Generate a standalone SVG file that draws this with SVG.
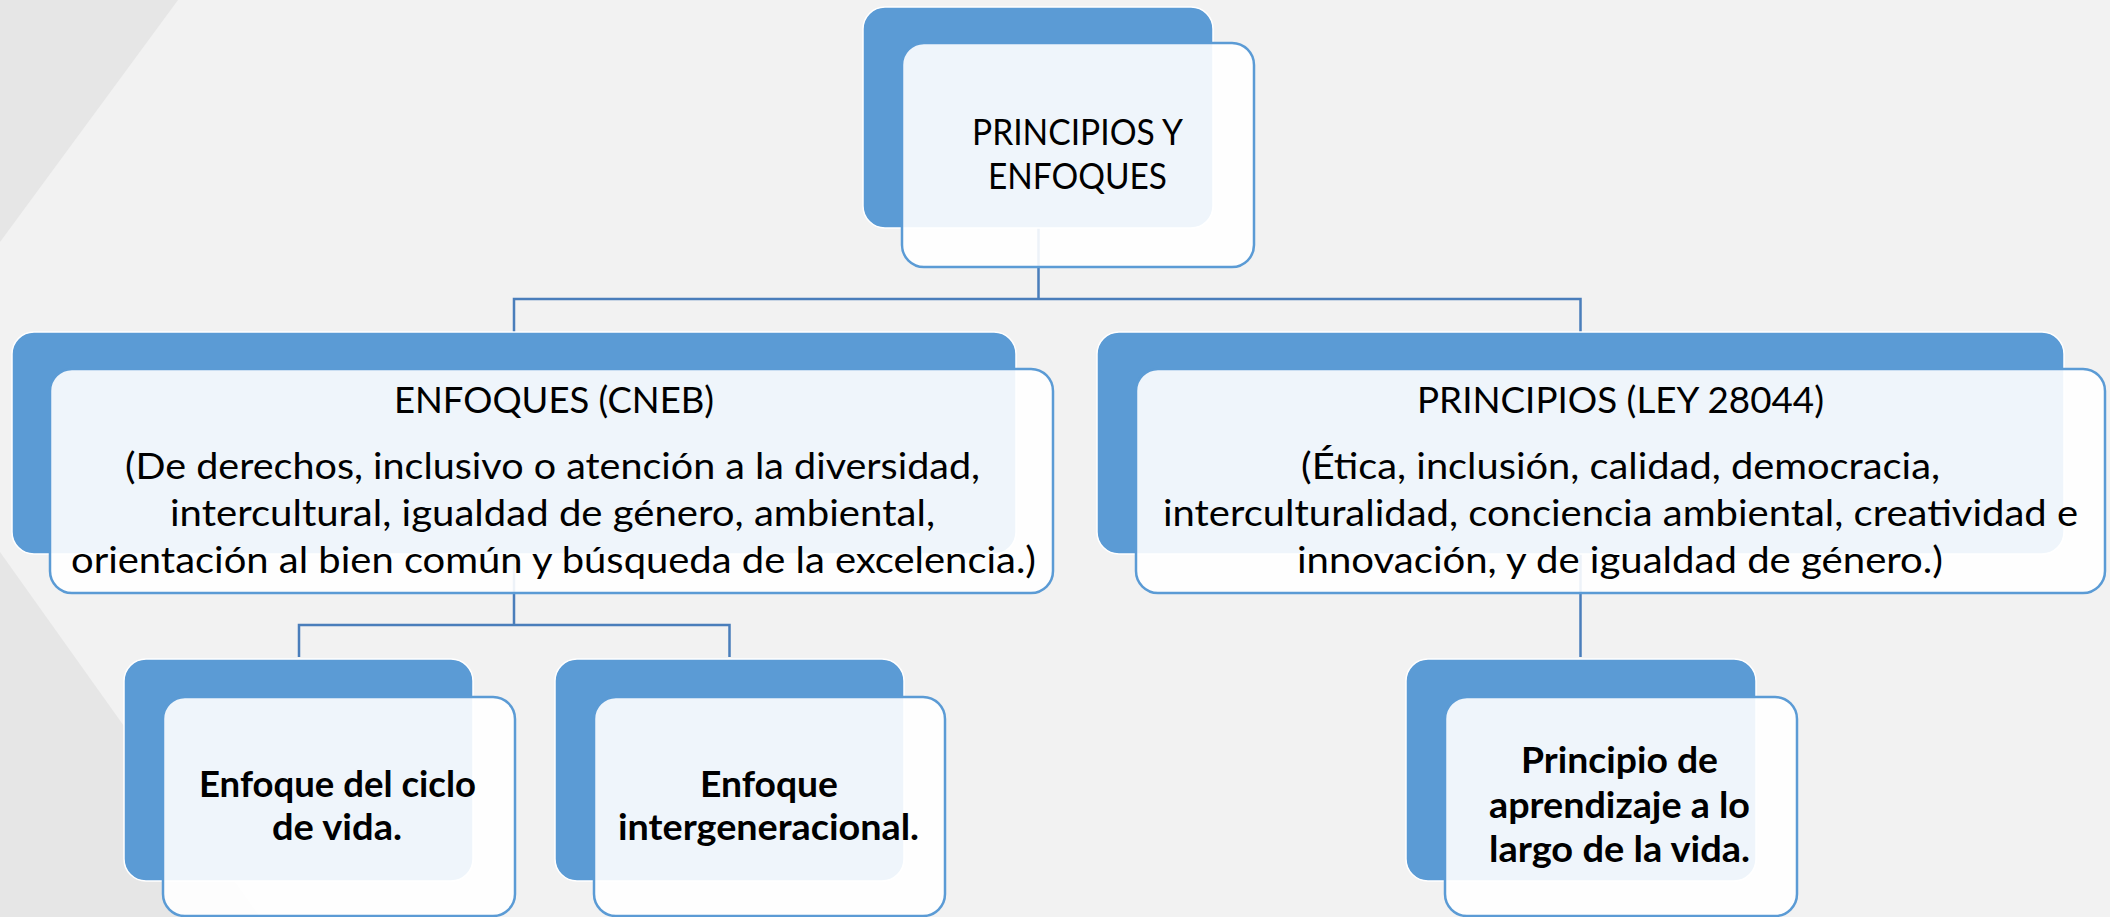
<svg xmlns="http://www.w3.org/2000/svg" width="2110" height="917" viewBox="0 0 2110 917">
<style>
.back{fill:#5B9BD5;stroke:#FFFFFF;stroke-width:1.5}
.front{fill:#FFFFFF;fill-opacity:0.9;stroke:#5B9BD5;stroke-width:2.5}
.t{font-family:Lato,"Liberation Sans",sans-serif;font-size:36px;fill:#000000}
.b{font-family:Lato,"Liberation Sans",sans-serif;font-size:36px;font-weight:bold;fill:#000000}
.conn{fill:none;stroke:#4A7EBB;stroke-width:2.5}
</style>
<rect x="0" y="0" width="2110" height="917" fill="#F2F2F2"/>
<polygon points="0,0 178,0 0,242" fill="#E6E6E6"/>
<polygon points="0,552 260,917 0,917" fill="#E6E6E6"/>
<g id="connectors">
<path class="conn" d="M1038.5,228 V299 M514,332 V299 H1580.5 V332"/>
<path class="conn" d="M514,554 V625 M299,657 V625 H729.5 V657"/>
<path class="conn" d="M1580.5,554 V657"/>
</g>
<g id="node-top">
<rect class="back" x="863" y="7" width="350" height="221" rx="22"/>
<rect class="front" x="902" y="43" width="352" height="224" rx="22"/>
<text class="t" x="972" y="145" textLength="211" lengthAdjust="spacingAndGlyphs">PRINCIPIOS Y</text>
<text class="t" x="988" y="189" textLength="179" lengthAdjust="spacingAndGlyphs">ENFOQUES</text>
</g>
<g id="node-enfoques">
<rect class="back" x="12" y="332" width="1004" height="222" rx="22"/>
<rect class="front" x="50" y="369" width="1003" height="224" rx="22"/>
<text class="t" x="394" y="413" textLength="320" lengthAdjust="spacingAndGlyphs">ENFOQUES (CNEB)</text>
<text class="t" x="125" y="479" textLength="855" lengthAdjust="spacingAndGlyphs">(De derechos, inclusivo o atención a la diversidad,</text>
<text class="t" x="170" y="526" textLength="765" lengthAdjust="spacingAndGlyphs">intercultural, igualdad de género, ambiental,</text>
<text class="t" x="71" y="573" textLength="965" lengthAdjust="spacingAndGlyphs">orientación al bien común y búsqueda de la excelencia.)</text>
</g>
<g id="node-principios">
<rect class="back" x="1097" y="332" width="967" height="222" rx="22"/>
<rect class="front" x="1136" y="369" width="969" height="224" rx="22"/>
<text class="t" x="1417" y="413" textLength="407" lengthAdjust="spacingAndGlyphs">PRINCIPIOS (LEY 28044)</text>
<text class="t" x="1301" y="479" textLength="639" lengthAdjust="spacingAndGlyphs">(Ética, inclusión, calidad, democracia,</text>
<text class="t" x="1163" y="526" textLength="915" lengthAdjust="spacingAndGlyphs">interculturalidad, conciencia ambiental, creatividad e</text>
<text class="t" x="1297" y="573" textLength="646" lengthAdjust="spacingAndGlyphs">innovación, y de igualdad de género.)</text>
</g>
<g id="node-ciclo">
<rect class="back" x="124" y="659" width="349" height="222" rx="22"/>
<rect class="front" x="163" y="697" width="352" height="219" rx="22"/>
<text class="b" x="199" y="797" textLength="277" lengthAdjust="spacingAndGlyphs">Enfoque del ciclo</text>
<text class="b" x="272" y="840" textLength="130" lengthAdjust="spacingAndGlyphs">de vida.</text>
</g>
<g id="node-intergeneracional">
<rect class="back" x="555" y="659" width="349" height="222" rx="22"/>
<rect class="front" x="594" y="697" width="351" height="219" rx="22"/>
<text class="b" x="700" y="797" textLength="138" lengthAdjust="spacingAndGlyphs">Enfoque</text>
<text class="b" x="618" y="840" textLength="301" lengthAdjust="spacingAndGlyphs">intergeneracional.</text>
</g>
<g id="node-aprendizaje">
<rect class="back" x="1406" y="659" width="350" height="222" rx="22"/>
<rect class="front" x="1445" y="697" width="352" height="219" rx="22"/>
<text class="b" x="1521" y="773" textLength="197" lengthAdjust="spacingAndGlyphs">Principio de</text>
<text class="b" x="1489" y="818" textLength="261" lengthAdjust="spacingAndGlyphs">aprendizaje a lo</text>
<text class="b" x="1489" y="862" textLength="261" lengthAdjust="spacingAndGlyphs">largo de la vida.</text>
</g>
</svg>
